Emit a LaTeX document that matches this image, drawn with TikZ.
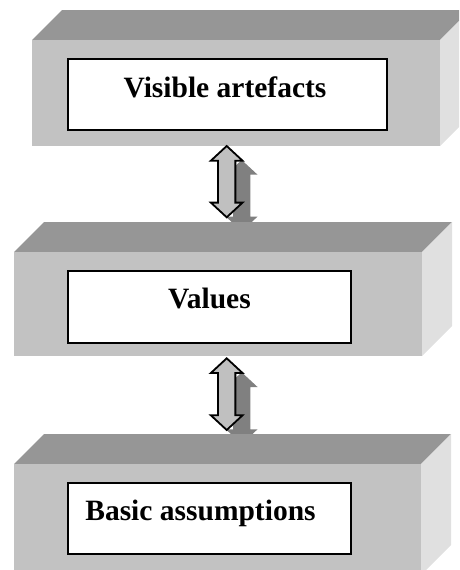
\documentclass[tikz,border=0pt]{standalone}
\usepackage{fontspec}
\setmainfont{Liberation Serif}
\definecolor{frontgray}{HTML}{C2C2C2}
\definecolor{topgray}{HTML}{969696}
\definecolor{sidegray}{HTML}{E0E0E0}
\definecolor{arrowgray}{HTML}{C0C0C0}
\definecolor{shadowgray}{HTML}{808080}
\tikzset{
  frontface/.style={fill=frontgray},
  topface/.style={fill=topgray},
  sideface/.style={fill=sidegray},
  labelbox/.style={draw=black, line width=1.4pt, fill=white, inner sep=0pt},
  labeltext/.style={anchor=base, inner sep=0pt, font=\fontsize{29.5}{34}\selectfont\bfseries},
  arrowbody/.style={fill=arrowgray, draw=black, line width=1.8pt, line join=miter},
  arrowshadow/.style={fill=shadowgray}
}
% slab: front face (x1,y1)-(x2,y2), depth offset (30,-30)
\newcommand\slab[4]{%
  \fill[topface] (#1,#2) -- ++(30,-30) -- (#3+30,#2-30) -- (#3,#2) -- cycle;
  \fill[sideface] (#3,#2) -- ++(30,-30) -- (#3+30,#4-30) -- (#3,#4) -- cycle;
  \fill[frontface] (#1,#2) rectangle (#3,#4);
}
% two-headed block arrow: style, centre x, top tip y, bottom tip y
\newcommand\twoway[4]{%
  \pgfmathsetmacro\shaftlen{#4-#3-29.4}%
  \path[#1] (#2,#3) -- ++(15.85,14.7) -- ++(-7.2,0) -- ++(0,\shaftlen)
    -- ++(7.2,0) -- ++(-15.85,14.7) -- ++(-15.85,-14.7) -- ++(7.2,0)
    -- ++(0,-\shaftlen) -- ++(-7.2,0) -- cycle;
}
\begin{document}
\begin{tikzpicture}[x=1pt,y=-1pt]
\useasboundingbox (0,0) rectangle (459,570);
\clip (0,0) rectangle (459,570);

% top layer
\slab{32}{40}{440}{146}
\node[labelbox, minimum width=319pt, minimum height=71pt] (artefacts) at (227.5,94.5) {};
\node[labeltext] (artefactstext) at (225,97) {Visible artefacts};

% link between top and middle layers
\coordinate (a1top) at (226.7,146);
\coordinate (a1bot) at (226.7,217.3);
\twoway{arrowshadow}{241.7}{160}{231.3}
\twoway{arrowbody}{226.7}{146}{217.3}

% middle layer
\slab{14}{252}{422}{356}
\node[labelbox, minimum width=283pt, minimum height=72pt] (values) at (209.5,307) {};
\node[labeltext] (valuestext) at (209.5,308) {Values};

% link between middle and bottom layers
\twoway{arrowshadow}{241.7}{372.3}{444}
\twoway{arrowbody}{226.7}{358.3}{430}

% bottom layer
\slab{14}{464}{421}{575}
\node[labelbox, minimum width=283pt, minimum height=71pt] (assumptions) at (209.5,518.5) {};
\node[labeltext] (assumptionstext) at (200.5,520) {Basic assumptions};
\end{tikzpicture}
\end{document}
